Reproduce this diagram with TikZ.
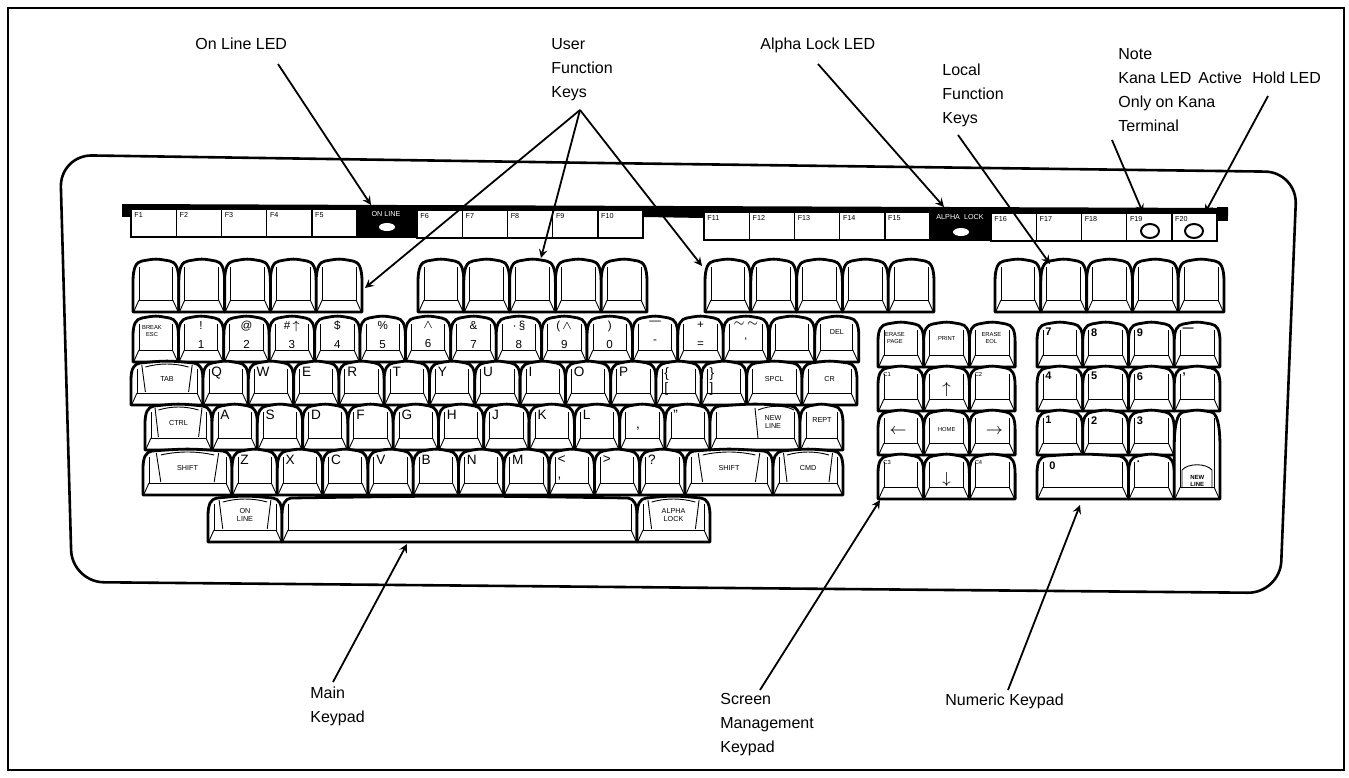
\documentclass[tikz,border=0pt]{standalone}
\usepackage{fontspec}
\setmainfont{Liberation Sans}
\usetikzlibrary{arrows}
\usetikzlibrary{shapes.geometric}

\tikzset{
  keyout/.style={fill=white,draw=black,line width=1.4pt,line join=round},
  keyline/.style={draw=black,line width=0.45pt},
  keytxt/.style={inner sep=0pt,align=center,font=\fontsize{3.6}{4.2}\selectfont},
  tinytxt/.style={keytxt,font=\fontsize{2.9}{3.4}\selectfont},
  letter/.style={keytxt,at={(8,5)},anchor=north west,font=\fontsize{6.8}{7.5}\selectfont},
  numkey/.style={keytxt,at={({\kw/2},4)},anchor=north,font=\fontsize{5.8}{9.5}\selectfont},
  word/.style={keytxt,at={({\kw/2},{0.4*\kh})}},
  corner/.style={tinytxt,at={(5,5)},anchor=north west},
  padnum/.style={keytxt,at={(8,5)},anchor=north west,font=\bfseries\fontsize{5.5}{6}\selectfont},
  big/.style={keytxt,at={({\kw/2},{0.5*\kh})},font=\fontsize{8}{8}\selectfont},
  fkey/.style={draw=black,fill=white,line width=0.7pt},
  fkeytxt/.style={inner sep=0pt,anchor=north west,font=\fontsize{3.6}{4}\selectfont},
  led/.style={ellipse,fill=white,inner sep=0pt,minimum width=8pt,minimum height=4pt},
  bigled/.style={ellipse,draw=black,fill=white,line width=1pt,inner sep=0pt,minimum width=9pt,minimum height=7pt},
  lbl/.style={inner sep=0pt,anchor=north west,align=left,font=\fontsize{8}{12}\selectfont},
  callout/.style={line width=0.9pt,-stealth}
}

% one sculpted key: name, x, y, width, height, label style, label
\newcommand{\keycap}[7]{%
  \begin{scope}[shift={(#2,#3)}]
    \def\kw{#4}\def\kh{#5}
    \filldraw[keyout] (0,\kh) -- (0,{0.42*\kh})
      .. controls (0,{0.15*\kh}) and (3,2) .. (9,1)
      .. controls ({\kw/2},-1.5) .. ({\kw-9},1)
      .. controls ({\kw-3},2) and (\kw,{0.15*\kh}) .. (\kw,{0.42*\kh})
      -- (\kw,\kh) -- cycle;
    \draw[keyline] (6,7) -- (6,{\kh-12}) -- ({\kw-6},{\kh-12}) -- ({\kw-6},7);
    \draw[keyline] (6,{\kh-12}) -- (1,{\kh-1}) ({\kw-6},{\kh-12}) -- ({\kw-1},{\kh-1});
    \node[#6] (#1) {#7};
  \end{scope}}

% wide key with the dished face
\newcommand{\modcap}[7]{%
  \keycap{#1}{#2}{#3}{#4}{#5}{#6}{#7}
  \begin{scope}[shift={(#2,#3)}]
    \def\kw{#4}\def\kh{#5}
    \draw[keyline] ({0.15*\kw},3) -- ({0.2*\kw},{\kh-13}) ({0.85*\kw},3) -- ({0.8*\kw},{\kh-13});
    \draw[keyline] ({0.2*\kw},5) .. controls ({0.4*\kw},1) and ({0.6*\kw},1) .. ({0.8*\kw},5);
  \end{scope}}

\begin{document}
\begin{tikzpicture}[x=0.5pt,y=-0.5pt]
\fill[white] (0,0) rectangle (1349,777);
\path[use as bounding box] (0,0) rectangle (1349,777);

% frame and case
\draw[line width=0.9pt] (8,8) rectangle (1344,770);
\draw[line width=1.3pt,rounded corners=16pt] (600,163) -- (1297,172) -- (1280,593) -- (72,582) -- (60,155) -- cycle;

% function strip
\fill (122,204) -- (1228,208) -- (1228,216) -- (122,212) -- cycle;
\fill (122,204) rectangle (131,217);
\fill (1217,207) rectangle (1228,221);
\fill (356,205) rectangle (417,238);
\fill (644,206) -- (704,207) -- (704,218) -- (644,217) -- cycle;
\fill (930,207) rectangle (991,241);
\foreach \gx/\gy/\gn in {131/209/0,417/210/5,704/212/10,991/213/15}
  \foreach \i in {1,...,5} {
    \pgfmathsetmacro\fx{\gx+(\i-1)*45.2}
    \pgfmathtruncatemacro\fn{\gn+\i}
    \draw[fkey] (\fx,\gy) rectangle ++(45.2,28);
    \node[fkeytxt] (f\fn) at ({\fx+3},{\gy+3}) {F\fn};
  }
\node[fkeytxt,anchor=north,text=white] (onlinetxt) at (386,211) {ON LINE};
\node[fkeytxt,anchor=north,text=white] (alphatxt) at (960,214) {ALPHA\ \ LOCK};
\node[led] (onled) at (387,227) {};
\node[led] (alphaled) at (961,232) {};
\node[bigled] (kanaled) at (1150,231) {};
\node[bigled] (holdled) at (1194,231) {};

% user and local function keys
\foreach \gx [count=\g] in {133,418,705,995}
  \foreach \i in {0,...,4} {
    \pgfmathsetmacro\kx{\gx+\i*45.8}
    \keycap{fn\g k\i}{\kx}{260}{45.8}{52}{word}{}
  }

% main keypad, row 1
\keycap{esc}{133}{317}{45.4}{45}{tinytxt,at={(19,14)}}{BREAK\\ESC}
\foreach \up/\dn [count=\i] in {!/1,@/2,\#\,$\uparrow$/3,\$/4,\%/5,$\wedge$/6,\&/7,$\cdot$\,\S/8,{(}\,$\wedge$/9,{)}/0,---/-,+/=,$\sim$\,$\sim$/`} {
  \pgfmathsetmacro\kx{133+\i*45.4}
  \keycap{r1k\i}{\kx}{317}{45.4}{45}{numkey}{\up\\\dn}
}
\keycap{blank}{769.4}{317}{45.4}{45}{word}{}
\keycap{del}{814.8}{317}{44}{45}{word,at={(22,15)}}{DEL}

% row 2
\modcap{tab}{131}{362}{72}{43}{word}{TAB}
\foreach \ltr [count=\i from 0] in {Q,W,E,R,T,Y,U,I,O,P} {
  \pgfmathsetmacro\kx{203+\i*45.3}
  \keycap{r2k\i}{\kx}{362}{45.3}{43}{letter}{\ltr}
}
\keycap{lbr}{656}{362}{45.3}{43}{letter,align=left}{\{\\{[}}
\keycap{rbr}{701.3}{362}{45.3}{43}{letter,align=left}{\}\\{]}}
\keycap{spcl}{746.6}{362}{55.4}{43}{word}{SPCL}
\keycap{cr}{802}{362}{55}{43}{word}{CR}

% row 3
\modcap{ctrl}{145}{405}{67}{45}{word}{CTRL}
\foreach \ltr [count=\i from 0] in {A,S,D,F,G,H,J,K,L} {
  \pgfmathsetmacro\kx{212+\i*45.3}
  \keycap{r3k\i}{\kx}{405}{45.3}{45}{letter}{\ltr}
}
\keycap{semi}{619.7}{405}{45.3}{45}{letter,at={(16,22)}}{,}
\keycap{quot}{665}{405}{45}{45}{letter}{''}
\keycap{newline}{710}{405}{90}{45}{word,at={(63,17)}}{NEW\\LINE}
\draw[keyline] (755,408) -- (758,438);
\draw[keyline] (758,410) .. controls (770,405) and (785,405) .. (794,410);
\keycap{rept}{800}{405}{43}{45}{word,at={(22,15)}}{REPT}

% row 4
\modcap{lshift}{143}{450}{89}{45}{word}{SHIFT}
\foreach \ltr [count=\i from 0] in {Z,X,C,V,B,N,M} {
  \pgfmathsetmacro\kx{232+\i*45.3}
  \keycap{r4k\i}{\kx}{450}{45.3}{45}{letter}{\ltr}
}
\keycap{lt}{549.1}{450}{45.3}{45}{letter,align=left}{<\\{,}}
\keycap{gt}{594.4}{450}{45.3}{45}{letter}{>}
\keycap{qm}{639.7}{450}{45.3}{45}{letter}{?}
\modcap{rshift}{685}{450}{88}{45}{word}{SHIFT}
\modcap{cmd}{773}{450}{70}{45}{word}{CMD}

% row 5
\modcap{onlinekey}{208}{497}{74}{45}{word}{ON\\LINE}
\keycap{space}{282}{497}{355}{45}{word}{}
\modcap{alphakey}{637}{497}{73}{45}{word}{ALPHA\\LOCK}

% screen management keypad
\keycap{erpage}{878}{323}{45.7}{44}{tinytxt,at={(17,15)}}{ERASE\\PAGE}
\keycap{print}{923.7}{323}{45.7}{44}{tinytxt,at={(23,15)}}{PRINT}
\keycap{ereol}{969.4}{323}{45.7}{44}{tinytxt,at={(22,15)}}{ERASE\\EOL}
\keycap{cone}{878}{367}{45.7}{44}{corner}{C1}
\keycap{up}{923.7}{367}{45.7}{44}{big}{$\uparrow$}
\keycap{ctwo}{969.4}{367}{45.7}{44}{corner}{C2}
\keycap{left}{878}{411}{45.7}{44}{big,at={(20,20)}}{$\leftarrow$}
\keycap{home}{923.7}{411}{45.7}{44}{tinytxt,at={(23,18)}}{HOME}
\keycap{right}{969.4}{411}{45.7}{44}{big,at={(25,20)}}{$\rightarrow$}
\keycap{cthree}{878}{455}{45.7}{44}{corner}{C3}
\keycap{down}{923.7}{455}{45.7}{44}{big,at={(23,24)}}{$\downarrow$}
\keycap{cfour}{969.4}{455}{45.7}{44}{corner}{C4}

% numeric keypad
\foreach \n [count=\i from 0] in {7,8,9,---} {
  \pgfmathsetmacro\kx{1037+\i*45.75}
  \keycap{pa\i}{\kx}{323}{45.75}{44}{padnum}{\n}
}
\foreach \n [count=\i from 0] in {4,5,6,{,}} {
  \pgfmathsetmacro\kx{1037+\i*45.75}
  \keycap{pb\i}{\kx}{367}{45.75}{44}{padnum}{\n}
}
\foreach \n [count=\i from 0] in {1,2,3} {
  \pgfmathsetmacro\kx{1037+\i*45.75}
  \keycap{pc\i}{\kx}{411}{45.75}{44}{padnum}{\n}
}
\keycap{zero}{1037}{455}{91.5}{44}{padnum,at={(12,6)}}{0}
\keycap{dot}{1128.5}{455}{45.75}{44}{padnum}{.}
\keycap{padnl}{1174.25}{411}{45.75}{88}{tinytxt,at={(23,70)},font=\bfseries\fontsize{3}{3.5}\selectfont}{NEW\\LINE}
\draw[keyline] (1182,488) -- (1182,470) .. controls (1188,463) and (1206,463) .. (1212,470) -- (1212,488);

% labels
\node[lbl] (onlbl) at (195,38) {On Line LED};
\node[lbl] (usrlbl) at (551,38) {User\\Function\\Keys};
\node[lbl] (alphalbl) at (760,38) {Alpha Lock LED};
\node[lbl] (loclbl) at (942,64) {Local\\Function\\Keys};
\node[lbl] (notelbl) at (1118,48) {Note\\Kana LED\,\ Active\\Only on Kana\\Terminal};
\node[lbl] (holdlbl) at (1252,72) {Hold LED};
\node[lbl] (mainlbl) at (310,686) {Main\\Keypad};
\node[lbl] (scrlbl) at (720,693) {Screen\\Management\\Keypad};
\node[lbl] (numlbl) at (945,693) {Numeric Keypad};

% leader lines
\coordinate (onA) at (278,64);
\coordinate (onB) at (371,205);
\coordinate (usrA) at (580,110);
\coordinate (usrB) at (365,288);
\coordinate (usrC) at (541,258);
\coordinate (usrD) at (702,266);
\coordinate (alA) at (818,64);
\coordinate (alB) at (944,207);
\coordinate (locA) at (958,135);
\coordinate (locB) at (1050,264);
\coordinate (noteA) at (1112,140);
\coordinate (noteB) at (1143,213);
\coordinate (holdA) at (1268,96);
\coordinate (holdB) at (1205,213);
\coordinate (mainA) at (333,682);
\coordinate (mainB) at (407,544);
\coordinate (scrA) at (760,690);
\coordinate (scrB) at (880,500);
\coordinate (numA) at (1008,690);
\coordinate (numB) at (1080,505);

\draw[callout] (onA) -- (onB);
\draw[callout] (usrA) -- (usrB);
\draw[callout] (usrA) -- (usrC);
\draw[callout] (usrA) -- (usrD);
\draw[callout] (alA) -- (alB);
\draw[callout] (locA) -- (locB);
\draw[callout] (noteA) -- (noteB);
\draw[callout] (holdA) -- (holdB);
\draw[callout] (mainA) -- (mainB);
\draw[callout] (scrA) -- (scrB);
\draw[callout] (numA) -- (numB);

\end{tikzpicture}
\end{document}
